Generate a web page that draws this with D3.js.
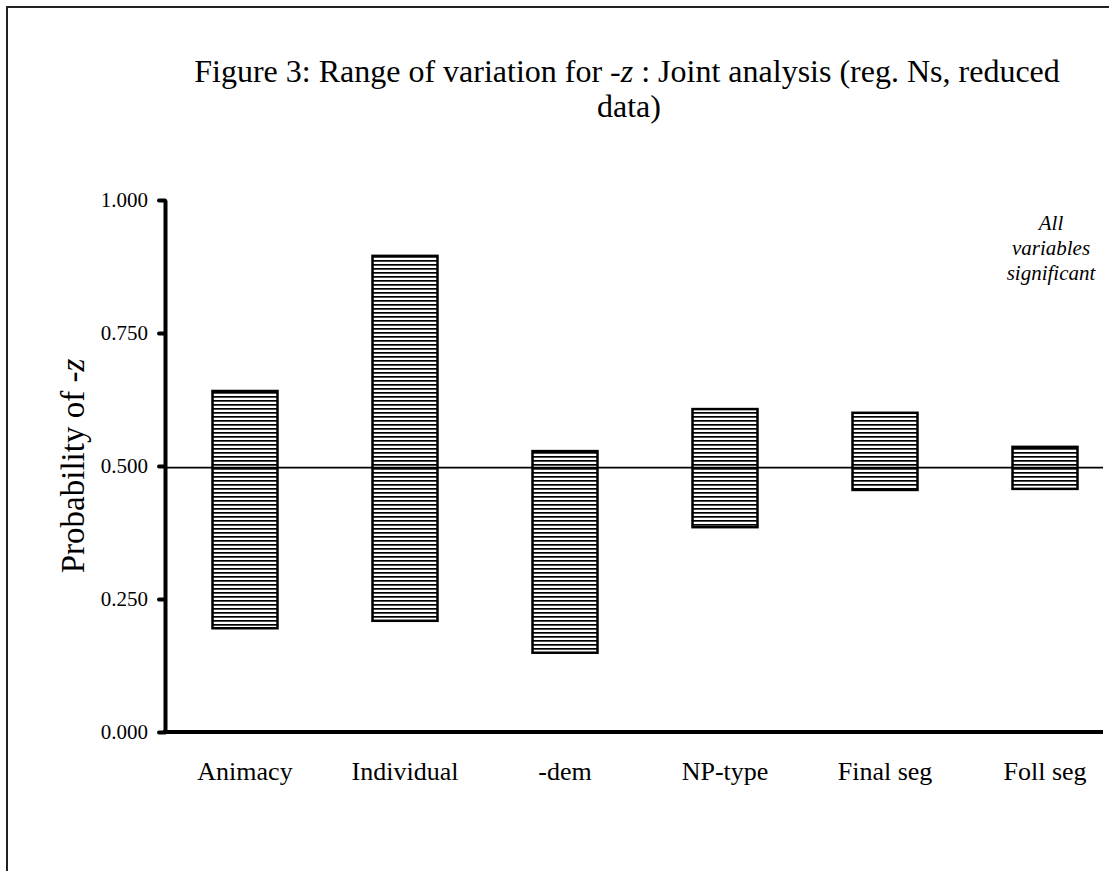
<!DOCTYPE html>
<html>
<head>
<meta charset="utf-8">
<script src="https://cdn.jsdelivr.net/npm/d3@7"></script>
<style>
  html, body { margin:0; padding:0; background:#fff; overflow:hidden; }
  svg { display:block; }
  svg text { font-family:"Liberation Serif","Times New Roman",serif; fill:#000; }
</style>
</head>
<body>
<svg id="chart" width="1109" height="871"></svg>
<script>
// Диапазон вероятности -z по каждой переменной
const categories = ['Animacy', 'Individual', '-dem', 'NP-type', 'Final seg', 'Foll seg'];
const lowValues  = [0.195, 0.209, 0.149, 0.385, 0.455, 0.457];
const highValues = [0.641, 0.895, 0.528, 0.607, 0.600, 0.536];
const inputProb  = 0.497;
const yTicks     = [0, 0.25, 0.5, 0.75, 1];

const W = 1109, H = 871;
const plotL = 165, plotR = 1103, plotT = 200, plotB = 732;
const step = 160, barW = 65;

const svg = d3.select('#chart');

// штриховка — горизонтальные линии
const defs = svg.append('defs');
const pat = defs.append('pattern').attr('id','hatch')
  .attr('patternUnits','userSpaceOnUse').attr('width',8).attr('height',4);
pat.append('rect').attr('width',8).attr('height',4).attr('fill','#fff');
pat.append('rect').attr('y',0).attr('width',8).attr('height',1.7).attr('fill','#000');

// рамка (обрезана справа и снизу)
svg.append('path').attr('d', `M7,${H} L7,7 L${W},7`)
  .attr('fill','none').attr('stroke','#222').attr('stroke-width',2);

const x = d3.scaleBand().domain(categories).range([plotL, plotL + step * categories.length]);
const y = d3.scaleLinear().domain([0, 1]).range([plotB, plotT]);

// title
const title = svg.append('text').attr('text-anchor','middle').style('font-size','32px');
const t1 = title.append('tspan').attr('x',627).attr('y',82);
t1.append('tspan').text('Figure 3: Range of variation for -');
t1.append('tspan').style('font-style','italic').text('z');
t1.append('tspan').text(' : Joint analysis (reg. Ns, reduced');
title.append('tspan').attr('x',629).attr('y',117).text('data)');

// bars
svg.append('g').selectAll('rect').data(categories).join('rect')
  .attr('x', (d) => x(d) + x.bandwidth()/2 - barW/2)
  .attr('width', barW)
  .attr('y', (d,i) => y(highValues[i]))
  .attr('height', (d,i) => y(lowValues[i]) - y(highValues[i]))
  .attr('fill','url(#hatch)')
  .attr('stroke','#000').attr('stroke-width',2.5);

// reference line
svg.append('line')
  .attr('x1', plotL).attr('x2', plotR)
  .attr('y1', y(inputProb)).attr('y2', y(inputProb))
  .attr('stroke','#000').attr('stroke-width',1.6);

// y axis
const yAxis = svg.append('g').attr('transform', `translate(${plotL},0)`)
  .call(d3.axisLeft(y).tickValues(yTicks).tickFormat(d3.format('.3f')).tickSize(6).tickSizeOuter(0).tickPadding(11));
yAxis.select('.domain').attr('stroke','#000').attr('stroke-width',4);
yAxis.selectAll('.tick line').attr('stroke','#000').attr('stroke-width',4).attr('stroke-linecap','round');
yAxis.selectAll('.tick text').style('font-size','21px');

// x axis
const xAxis = svg.append('g').attr('transform', `translate(0,${plotB})`)
  .call(d3.axisBottom(x).tickSize(0).tickPadding(30));
xAxis.select('.domain').remove();
xAxis.selectAll('.tick text').style('font-size','26px');
svg.append('line').attr('x1', plotL - 2).attr('x2', plotR).attr('y1', plotB).attr('y2', plotB)
  .attr('stroke','#000').attr('stroke-width',4);

// y title
const yt = svg.append('text').attr('transform', `translate(84,${(plotT+plotB)/2}) rotate(-90)`)
  .attr('text-anchor','middle').style('font-size','33px');
yt.append('tspan').text('Probability of -');
yt.append('tspan').style('font-style','italic').text('z');

// annotation
const note = svg.append('text').attr('text-anchor','middle').style('font-size','21px')
  .style('font-style','italic');
['All','variables','significant'].forEach((s,i) => {
  note.append('tspan').attr('x',1051).attr('y',230 + i*25).text(s);
});
</script>
</body>
</html>
